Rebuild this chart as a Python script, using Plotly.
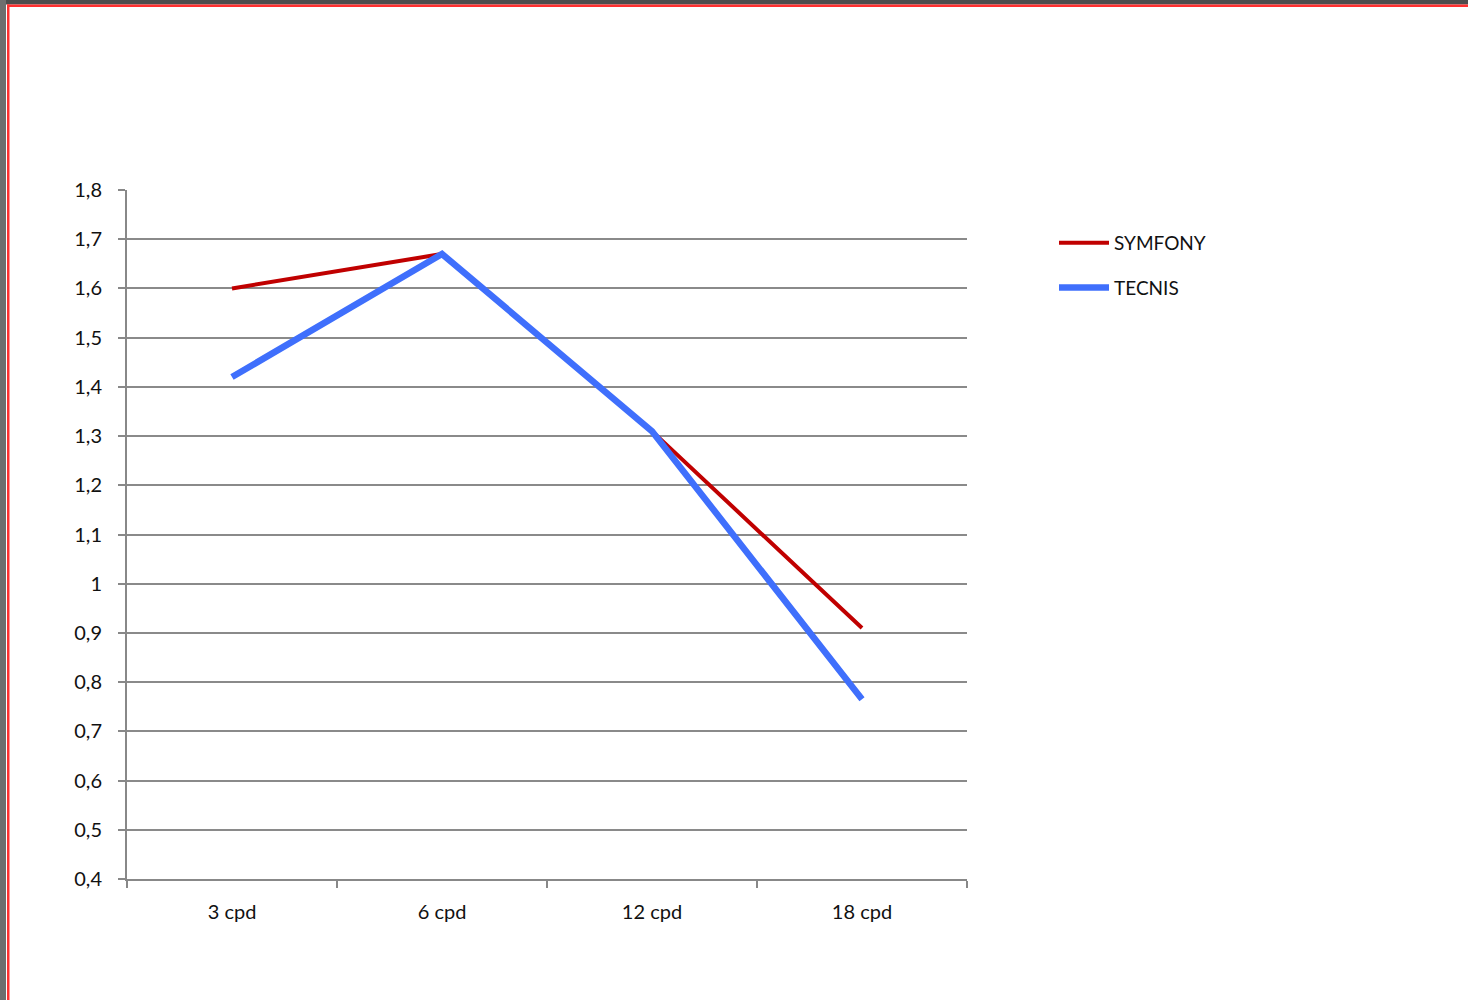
import plotly.graph_objects as go

categories = ["3 cpd", "6 cpd", "12 cpd", "18 cpd"]
symfony = [1.60, 1.67, 1.31, 0.91]
tecnis = [1.42, 1.67, 1.31, 0.765]
ytick_vals = [0.4, 0.5, 0.6, 0.7, 0.8, 0.9, 1.0, 1.1, 1.2, 1.3, 1.4, 1.5, 1.6, 1.7, 1.8]
ytick_text = ["0,4", "0,5", "0,6", "0,7", "0,8", "0,9", "1", "1,1", "1,2", "1,3", "1,4", "1,5", "1,6", "1,7", "1,8"]

W, H = 1468, 1000
L, R, T, B = 127, 967, 190, 879

def px(x):
    return (x - L) / (R - L)

def py(y):
    return (B - y) / (B - T)

FONT = "Lato"
TXT = "#111111"

fig = go.Figure()
fig.add_trace(go.Scatter(x=categories, y=symfony, name="SYMFONY", mode="lines",
                         line=dict(color="#c00000", width=4), legendgroup="a"))
fig.add_trace(go.Scatter(x=categories, y=tecnis, name="TECNIS", mode="lines",
                         line=dict(color="#3f6ffc", width=6.5), legendgroup="b"))

fig.update_layout(
    width=W, height=H,
    margin=dict(l=L, r=W - R, t=T, b=H - B, pad=0),
    paper_bgcolor="white", plot_bgcolor="white",
    font=dict(family=FONT, size=20, color=TXT),
    showlegend=True,
    legend=dict(x=px(1054), y=py(224), xanchor="left", yanchor="top",
                font=dict(family=FONT, size=19, color=TXT),
                traceorder="grouped", tracegroupgap=17, itemwidth=50,
                bgcolor="rgba(0,0,0,0)"),
    xaxis=dict(type="category", tickson="boundaries", ticks="outside", ticklen=7,
               tickcolor="#888888", tickwidth=2, showline=True, linecolor="#888888",
               linewidth=2, showgrid=False, range=[-0.5, 3.5], ticklabelstandoff=14,
               tickfont=dict(family=FONT, size=20, color=TXT)),
    yaxis=dict(range=[0.4, 1.8], tickvals=ytick_vals, ticktext=ytick_text,
               ticks="outside", ticklen=7, tickcolor="#888888", tickwidth=2,
               showline=True, linecolor="#888888", linewidth=2, ticklabelstandoff=12,
               showgrid=True, gridcolor="#8a8a8a", gridwidth=1.8, zeroline=False,
               tickfont=dict(family=FONT, size=20, color=TXT)),
    shapes=[
        dict(type="rect", xref="paper", yref="paper", x0=px(0), x1=px(W), y0=py(0), y1=py(4.5),
             fillcolor="#4d4d4d", line_width=0, layer="above"),
        dict(type="rect", xref="paper", yref="paper", x0=px(0), x1=px(6), y0=py(0), y1=py(H),
             fillcolor="#6e6e6e", line_width=0, layer="above"),
        dict(type="rect", xref="paper", yref="paper", x0=px(7), x1=px(W), y0=py(4.5), y1=py(7),
             fillcolor="#ff3030", line_width=0, layer="above"),
        dict(type="rect", xref="paper", yref="paper", x0=px(7), x1=px(9.5), y0=py(4.5), y1=py(H),
             fillcolor="#ff3030", line_width=0, layer="above"),
    ],
)

fig.write_html("out.html")
